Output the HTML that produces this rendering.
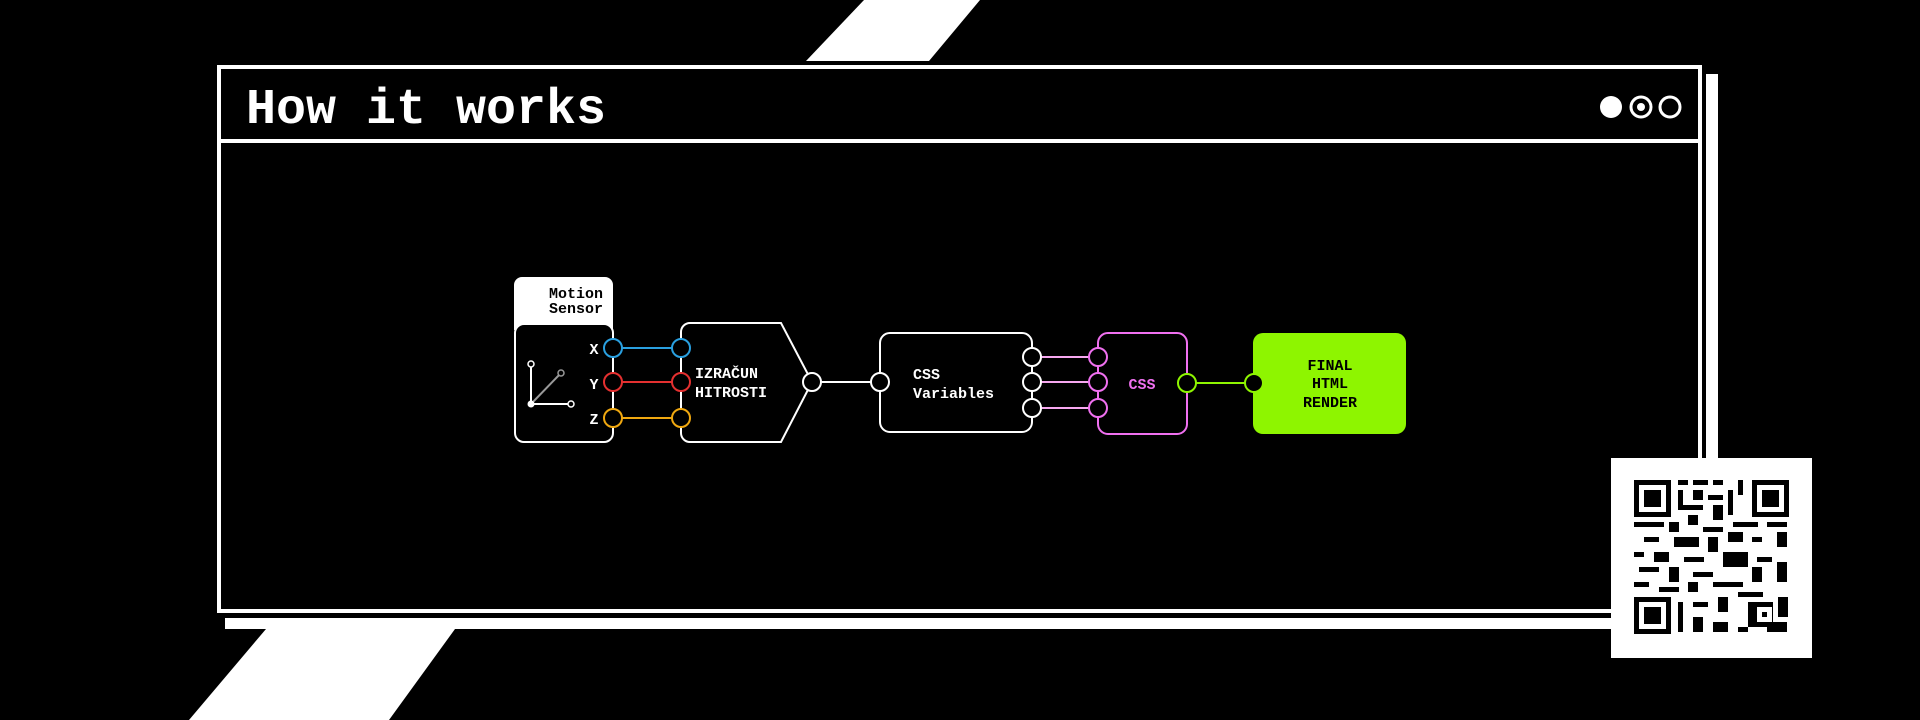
<!DOCTYPE html>
<html><head><meta charset="utf-8"><style>
html,body{margin:0;padding:0;background:#000;width:1920px;height:720px;overflow:hidden}
</style></head><body>
<svg width="1920" height="720" xmlns="http://www.w3.org/2000/svg" font-family="'Liberation Mono', monospace" font-weight="bold">
<rect width="1920" height="720" fill="#000"/>
<polygon points="864,0 980,0 929,61 806,61" fill="#fff"/>
<polygon points="266,629 455,629 389,720 189,720" fill="#fff"/>
<rect x="1706" y="74" width="12" height="544" fill="#fff"/>
<rect x="225" y="618" width="1490" height="11" fill="#fff"/>
<rect x="219" y="67" width="1481" height="544" fill="#000" stroke="#fff" stroke-width="4"/>
<line x1="219" y1="141" x2="1700" y2="141" stroke="#fff" stroke-width="4"/>
<text x="246" y="123" fill="#fff" font-size="50">How it works</text>
<circle cx="1611" cy="107" r="11" fill="#fff"/>
<circle cx="1641" cy="107" r="10" fill="none" stroke="#fff" stroke-width="3"/>
<circle cx="1641" cy="107" r="4" fill="#fff"/>
<circle cx="1670" cy="107" r="10" fill="none" stroke="#fff" stroke-width="3"/>
<!-- motion sensor -->
<path d="M514,330 V285 a8,8 0 0 1 8,-8 H605 a8,8 0 0 1 8,8 V330 Z" fill="#fff"/>
<text x="603" y="298" fill="#000" font-size="15" text-anchor="end">Motion</text>
<text x="603" y="313" fill="#000" font-size="15" text-anchor="end">Sensor</text>
<rect x="515" y="324" width="98" height="118" rx="9" fill="#000" stroke="#fff" stroke-width="2"/>
<line x1="531" y1="404" x2="531" y2="364" stroke="#fff" stroke-width="2"/>
<line x1="531" y1="404" x2="571" y2="404" stroke="#fff" stroke-width="2"/>
<line x1="531" y1="404" x2="561" y2="373" stroke="#999" stroke-width="2"/>
<circle cx="531" cy="404" r="3.5" fill="#fff"/>
<circle cx="531" cy="364" r="3" fill="#000" stroke="#fff" stroke-width="1.5"/>
<circle cx="571" cy="404" r="3" fill="#000" stroke="#fff" stroke-width="1.5"/>
<circle cx="561" cy="373" r="3" fill="#000" stroke="#999" stroke-width="1.5"/>
<text x="594" y="354" fill="#fff" font-size="15" text-anchor="middle">X</text>
<text x="594" y="389" fill="#fff" font-size="15" text-anchor="middle">Y</text>
<text x="594" y="424" fill="#fff" font-size="15" text-anchor="middle">Z</text>
<!-- izracun -->
<path d="M690,323 H781 L812,382 L781,442 H690 a9,9 0 0 1 -9,-9 V332 a9,9 0 0 1 9,-9 Z" fill="#000" stroke="#fff" stroke-width="2"/>
<text x="695" y="378" fill="#fff" font-size="15">IZRAČUN</text>
<text x="695" y="397" fill="#fff" font-size="15">HITROSTI</text>
<line x1="613" y1="348" x2="681" y2="348" stroke="#2aa0e0" stroke-width="2"/>
<line x1="613" y1="382" x2="681" y2="382" stroke="#e53030" stroke-width="2"/>
<line x1="613" y1="418" x2="681" y2="418" stroke="#f0a810" stroke-width="2"/>
<g stroke-width="2" fill="#000">
<circle cx="613" cy="348" r="9" stroke="#2aa0e0"/><circle cx="681" cy="348" r="9" stroke="#2aa0e0"/>
<circle cx="613" cy="382" r="9" stroke="#e53030"/><circle cx="681" cy="382" r="9" stroke="#e53030"/>
<circle cx="613" cy="418" r="9" stroke="#f0a810"/><circle cx="681" cy="418" r="9" stroke="#f0a810"/>
</g>
<line x1="812" y1="382" x2="880" y2="382" stroke="#fff" stroke-width="2"/>
<!-- css variables -->
<rect x="880" y="333" width="152" height="99" rx="10" fill="#000" stroke="#fff" stroke-width="2"/>
<text x="913" y="379" fill="#fff" font-size="15">CSS</text>
<text x="913" y="398" fill="#fff" font-size="15">Variables</text>
<g stroke="#f7a8f0" stroke-width="2">
<line x1="1032" y1="357" x2="1098" y2="357"/><line x1="1032" y1="382" x2="1098" y2="382"/><line x1="1032" y1="408" x2="1098" y2="408"/>
</g>
<!-- css -->
<rect x="1098" y="333" width="89" height="101" rx="10" fill="#000" stroke="#f070f0" stroke-width="2"/>
<text x="1142" y="389" fill="#f070f0" font-size="15" text-anchor="middle">CSS</text>
<g fill="#000" stroke-width="2">
<circle cx="880" cy="382" r="9" stroke="#fff"/><circle cx="812" cy="382" r="9" stroke="#fff"/>
<circle cx="1032" cy="357" r="9" stroke="#fff"/><circle cx="1032" cy="382" r="9" stroke="#fff"/><circle cx="1032" cy="408" r="9" stroke="#fff"/>
<circle cx="1098" cy="357" r="9" stroke="#f070f0"/><circle cx="1098" cy="382" r="9" stroke="#f070f0"/><circle cx="1098" cy="408" r="9" stroke="#f070f0"/>
</g>
<line x1="1187" y1="383" x2="1253" y2="383" stroke="#8ef500" stroke-width="2"/>
<rect x="1253" y="333" width="153" height="101" rx="10" fill="#8ef500"/>
<text x="1330" y="370" fill="#000" font-size="15" text-anchor="middle">FINAL</text>
<text x="1330" y="388" fill="#000" font-size="15" text-anchor="middle">HTML</text>
<text x="1330" y="407" fill="#000" font-size="15" text-anchor="middle">RENDER</text>
<circle cx="1187" cy="383" r="9" fill="#000" stroke="#8ef500" stroke-width="2"/>
<circle cx="1254" cy="383" r="9" fill="#000" stroke="#8ef500" stroke-width="2"/>
<!-- QR -->
<rect x="1611" y="458" width="201" height="200" fill="#fff"/>
<g fill="#000">
<rect x="1634" y="480" width="37" height="37"/><rect x="1639" y="485" width="27" height="27" fill="#fff"/><rect x="1644" y="490" width="17" height="17"/>
<rect x="1752" y="480" width="37" height="37"/><rect x="1757" y="485" width="27" height="27" fill="#fff"/><rect x="1762" y="490" width="17" height="17"/>
<rect x="1634" y="597" width="37" height="37"/><rect x="1639" y="602" width="27" height="27" fill="#fff"/><rect x="1644" y="607" width="17" height="17"/>
</g>
<g fill="#000">
<rect x="1678" y="480" width="10" height="5"/><rect x="1693" y="480" width="15" height="5"/><rect x="1713" y="480" width="10" height="5"/><rect x="1738" y="480" width="5" height="15"/>
<rect x="1678" y="490" width="5" height="20"/><rect x="1693" y="490" width="10" height="10"/><rect x="1708" y="495" width="15" height="5"/><rect x="1728" y="490" width="5" height="25"/>
<rect x="1683" y="505" width="20" height="5"/><rect x="1713" y="505" width="10" height="15"/><rect x="1688" y="515" width="10" height="10"/>
<rect x="1634" y="522" width="30" height="5"/><rect x="1669" y="522" width="10" height="10"/><rect x="1703" y="527" width="20" height="5"/><rect x="1733" y="522" width="25" height="5"/><rect x="1767" y="522" width="20" height="5"/>
<rect x="1644" y="537" width="15" height="5"/><rect x="1674" y="537" width="25" height="10"/><rect x="1708" y="537" width="10" height="15"/><rect x="1728" y="532" width="15" height="10"/><rect x="1752" y="537" width="10" height="5"/><rect x="1777" y="532" width="10" height="15"/>
<rect x="1634" y="552" width="10" height="5"/><rect x="1654" y="552" width="15" height="10"/><rect x="1684" y="557" width="20" height="5"/><rect x="1723" y="552" width="25" height="15"/><rect x="1757" y="557" width="15" height="5"/>
<rect x="1639" y="567" width="20" height="5"/><rect x="1669" y="567" width="10" height="15"/><rect x="1693" y="572" width="20" height="5"/><rect x="1752" y="567" width="10" height="15"/><rect x="1777" y="562" width="10" height="20"/>
<rect x="1634" y="582" width="15" height="5"/><rect x="1659" y="587" width="20" height="5"/><rect x="1688" y="582" width="10" height="10"/><rect x="1713" y="582" width="30" height="5"/><rect x="1738" y="592" width="25" height="5"/>
<rect x="1678" y="602" width="5" height="30"/><rect x="1693" y="602" width="15" height="5"/><rect x="1718" y="597" width="10" height="15"/><rect x="1748" y="602" width="25" height="25"/><rect x="1778" y="597" width="10" height="20"/>
<rect x="1693" y="617" width="10" height="15"/><rect x="1713" y="622" width="15" height="10"/><rect x="1738" y="627" width="10" height="5"/><rect x="1767" y="622" width="20" height="10"/>
</g>
<rect x="1757" y="607" width="15" height="15" fill="#fff"/><rect x="1762" y="612" width="5" height="5" fill="#000"/>
</svg>
</body></html>
